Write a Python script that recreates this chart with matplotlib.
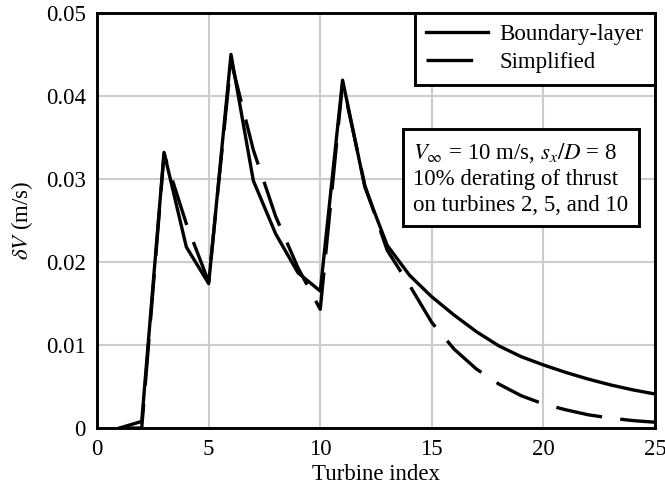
import matplotlib
matplotlib.use('Agg')
from matplotlib import pyplot as plt

# turbine index and velocity deficit (m/s)
turbine = list(range(1, 26))
boundary_layer = [0.0, 0.0008, 0.0332, 0.0218, 0.0174, 0.0450, 0.0298, 0.0234,
                  0.0187, 0.0165, 0.0419, 0.0290, 0.0220, 0.0184, 0.0158, 0.0136,
                  0.0116, 0.0099, 0.0086, 0.0076, 0.0067, 0.0059, 0.0052, 0.0046,
                  0.0041]
simplified = [0.0, 0.0, 0.0330, 0.0246, 0.0176, 0.0442, 0.0335, 0.0255,
              0.0193, 0.0143, 0.0416, 0.0292, 0.0214, 0.0172, 0.0127, 0.0095,
              0.0071, 0.0053, 0.0039, 0.0029, 0.0022, 0.0016, 0.0012, 0.0009,
              0.0007]

plt.rcParams['font.family'] = ['Liberation Serif', 'DejaVu Serif']
plt.rcParams['mathtext.fontset'] = 'stix'
plt.rcParams['font.size'] = 16.5

fig = plt.figure(figsize=(6.65, 4.96), dpi=100)
ax = fig.add_axes([0.146, 0.137, 0.839, 0.837])

lw = 2.4
ax.plot(turbine, simplified, color='black', lw=lw, dashes=(14, 5.5),
        label='Simplified', zorder=3)
ax.plot(turbine, boundary_layer, color='black', lw=lw,
        label='Boundary-layer', zorder=4)

ax.set_xlim(0, 25)
ax.set_ylim(0, 0.05)
ax.set_xticks([0, 5, 10, 15, 20, 25])
ax.set_yticks([0, 0.01, 0.02, 0.03, 0.04, 0.05])
ax.set_yticklabels(['0', '0.01', '0.02', '0.03', '0.04', '0.05'])
ax.tick_params(length=0, pad=8)
ax.grid(True, color='#cccccc', lw=1.5)
ax.set_axisbelow(True)
for s in ax.spines.values():
    s.set_linewidth(2.1)
    s.set_zorder(5)

ax.set_xlabel('Turbine index', labelpad=3)
ax.set_ylabel(r'$\delta V$ (m/s)', labelpad=8)

handles, labels = ax.get_legend_handles_labels()
leg = ax.legend(handles[::-1], labels[::-1], loc='upper right',
                bbox_to_anchor=(1.0, 1.0), fancybox=False, framealpha=1,
                edgecolor='black', handlelength=2.7, handletextpad=0.5,
                borderaxespad=0, labelspacing=0.3, borderpad=0.5)
leg.get_frame().set_linewidth(2.1)

ax.text(0.567, 0.692,
        '$V_\\infty$ = 10 m/s, $s_x/D$ = 8\n10% derating of thrust\non turbines 2, 5, and 10',
        transform=ax.transAxes, ha='left', va='top', linespacing=1.28,
        bbox=dict(boxstyle='square,pad=0.45', fc='white', ec='black', lw=2.1),
        zorder=6)

plt.savefig('out.png', dpi=100)
